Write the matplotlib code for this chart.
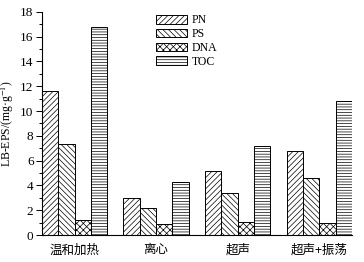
import numpy as np
import matplotlib
matplotlib.use('Agg')
import matplotlib.pyplot as plt
from matplotlib.ticker import MultipleLocator

plt.rcParams['font.family'] = ['Liberation Serif', 'Noto Sans CJK SC']
plt.rcParams['mathtext.fontset'] = 'stix'
plt.rcParams['hatch.linewidth'] = 0.5

# Данные
methods = ['温和加热', '离心', '超声', '超声+振荡']
series = ['PN', 'PS', 'DNA', 'TOC']
pn = [11.6, 3.0, 5.2, 6.8]
ps = [7.3, 2.15, 3.4, 4.6]
dna = [1.2, 0.85, 1.05, 0.95]
toc = [16.8, 4.3, 7.15, 10.8]
hatches = ['//////', '\\\\\\\\\\\\', 'xxxxx', '------']

fig, ax = plt.subplots(figsize=(3.64, 2.62), dpi=100)
fig.subplots_adjust(left=0.115, right=0.967, top=0.955, bottom=0.103)

x = np.arange(len(methods))
w = 0.2
for i, (name, vals) in enumerate(zip(series, [pn, ps, dna, toc])):
    ax.bar(x - 0.3 + i * w, vals, w, label=name, color='white',
           edgecolor='black', linewidth=0.7, hatch=hatches[i])

ax.set_xlim(-0.4, 3.4)
ax.set_ylim(0, 18)
ax.yaxis.set_major_locator(MultipleLocator(2))
ax.yaxis.set_minor_locator(MultipleLocator(1))
ax.set_xticks(x)
ax.set_xticklabels(methods, fontsize=9, family=['Noto Sans CJK SC'])
ax.tick_params(axis='x', length=0, pad=6)
ax.tick_params(axis='y', labelsize=9.5, length=4, width=0.7, direction='out', pad=2)
ax.tick_params(axis='y', which='minor', length=2.5, width=0.7)
ax.spines['top'].set_visible(False)
ax.spines['right'].set_visible(False)
ax.spines['left'].set_linewidth(0.8)
ax.spines['bottom'].set_linewidth(0.8)
ax.set_ylabel('LB-EPS/(mg·g$^{-1}$)', fontsize=8.5, labelpad=3)

ax.legend(loc='upper left', bbox_to_anchor=(0.345, 1.02), frameon=False,
          fontsize=8.5, handlelength=2.6, handleheight=0.75, labelspacing=0.15,
          handletextpad=0.4, borderaxespad=0.2)

plt.savefig('out.png', dpi=100)
